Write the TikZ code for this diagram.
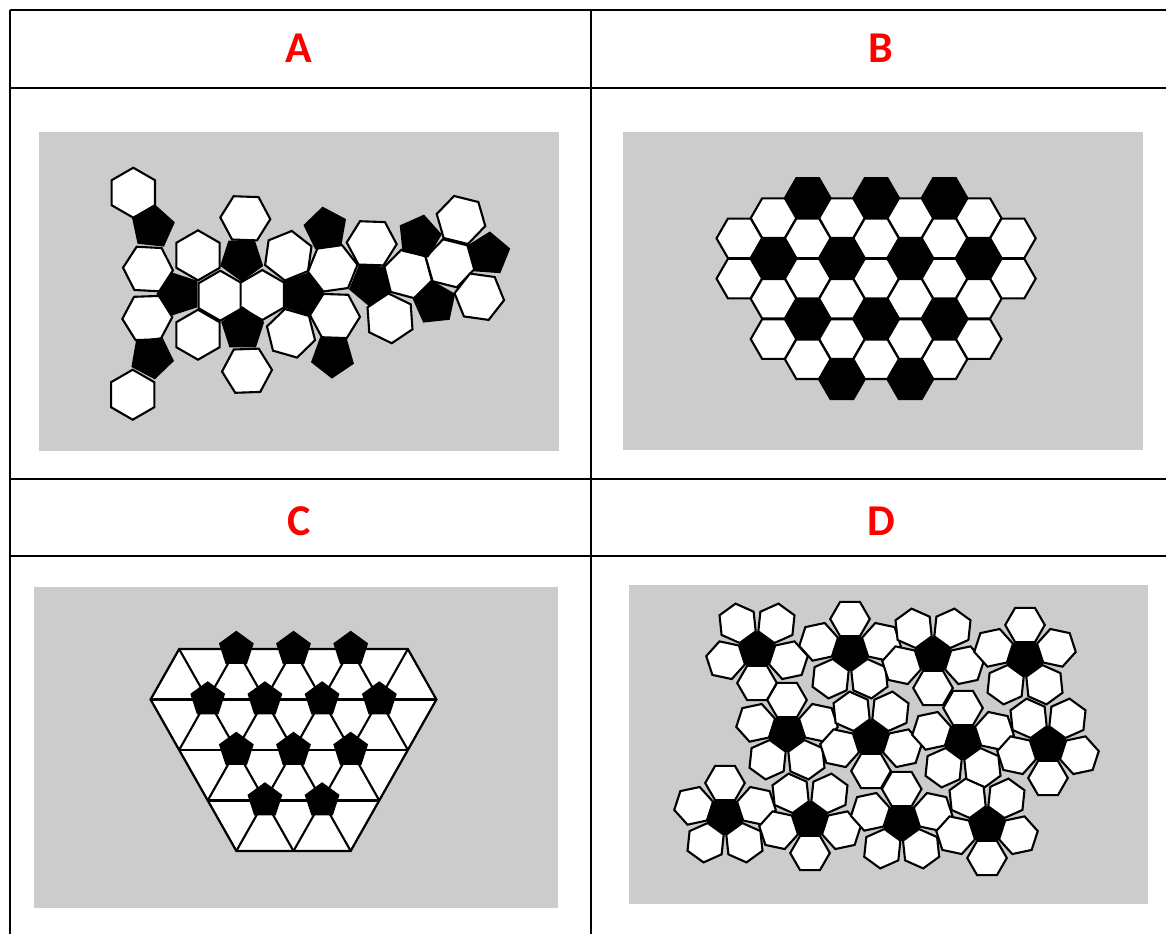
\documentclass[tikz,border=0pt]{standalone}
\usepackage{fontspec}
\setmainfont{Carlito}
\usetikzlibrary{calc}

\definecolor{panelgray}{RGB}{204,204,204}
\definecolor{lblred}{RGB}{255,0,0}

% regular polygons: #1 centre, #2 circumradius, #3 direction of one edge normal, #4 fill
\newcommand{\hexa}[4]{%
  \draw[tile, fill=#4, shift={#1}] (#3+30:#2) -- (#3+90:#2) -- (#3+150:#2)
    -- (#3+210:#2) -- (#3+270:#2) -- (#3+330:#2) -- cycle;}
\newcommand{\penta}[4]{%
  \draw[tile, fill=#4, shift={#1}] (#3+36:#2) -- (#3+108:#2) -- (#3+180:#2)
    -- (#3+252:#2) -- (#3+324:#2) -- cycle;}

\begin{document}
\begin{tikzpicture}[
  x=0.5pt, y=-0.5pt,
  tile/.style={draw=black, line width=1.05pt},
  rule/.style={line width=1.3pt},
  panel/.style={fill=panelgray},
  lbl/.style={text=lblred, font=\fontsize{22}{26}\selectfont\bfseries}
]
\useasboundingbox (0,0) rectangle (1166,934);

% table
\draw[rule] (10,10) -- (1166,10);
\draw[rule] (10,88) -- (1166,88);
\draw[rule] (10,479) -- (1166,479);
\draw[rule] (10,556) -- (1166,556);
\draw[rule] (10,10) -- (10,934);
\draw[rule] (591,10) -- (591,934);

\node[lbl] (labA) at (299,48) {A};
\node[lbl] (labB) at (881,48) {B};
\node[lbl] (labC) at (299,521) {C};
\node[lbl] (labD) at (881,521) {D};

\fill[panel] (39,132) rectangle (559,451);
\fill[panel] (623,132) rectangle (1143,450);
\fill[panel] (34,587) rectangle (558,908);
\fill[panel] (629,585) rectangle (1148,904);

% A: net
\foreach \px/\py/\pa in {133.3/192.7/0, 148/269/33, 147.3/318/28, 132.7/394.7/0,
    198/255.3/0, 198/334.7/0, 220.3/295.7/0, 262.3/295/0, 245.3/218.3/32,
    247/370.7/28, 288.3/255.7/8, 291/333.3/46, 332.7/268.3/22, 371.7/243.3/32,
    390/318.3/56, 407.7/274/45, 461/220/44, 450/263.3/44, 479.3/296.7/38, 335/316/32}
  {\hexa{(\px,\py)}{25}{\pa}{white}}
\foreach \px/\py/\pa in {152.7/227/24, 151.7/357/46, 241.7/259/54, 242.7/329/18,
    179/294/0, 302/294/36, 325.7/229/10, 371/284/58, 419.3/236.7/30,
    488.3/254/22, 434.5/303/12, 332.7/356/56}
  {\penta{(\px,\py)}{21.3}{\pa}{black}}

% B: hexagons only
\foreach \j/\cols/\col in {0/{2,4,6}/black, 1/{1,3,5,7}/white, 2/{0,2,4,6,8}/white,
    3/{1,3,5,7}/black, 4/{0,2,4,6,8}/white, 5/{1,3,5,7}/white, 6/{2,4,6}/black,
    7/{1,3,5,7}/white, 8/{2,4,6}/white, 9/{3,5}/black}
  {\foreach \i in \cols {\hexa{(739.3+34.2*\i,198+20.15*\j)}{22.8}{30}{\col}}}

% C: triangles
\begin{scope}[shift={(293.5,649)}]
  \fill[white] (-114.4,0) -- (114.4,0) -- (143,50.5) -- (57.2,202) -- (-57.2,202) -- (-143,50.5) -- cycle;
  \begin{scope}
    \clip (-114.4,0) -- (114.4,0) -- (143,50.5) -- (57.2,202) -- (-57.2,202) -- (-143,50.5) -- cycle;
    \foreach \k in {-2,...,3} \draw[tile] ({(\k+0.5)*57.2},-50.5) -- ({(\k-2.5)*57.2},252.5);
    \foreach \k in {-3,...,2} \draw[tile] ({(\k-0.5)*57.2},-50.5) -- ({(\k+2.5)*57.2},252.5);
    \foreach \r in {1,2,3} \draw[tile] (-200,\r*50.5) -- (200,\r*50.5);
  \end{scope}
  \draw[tile] (-114.4,0) -- (114.4,0) -- (143,50.5) -- (57.2,202) -- (-57.2,202) -- (-143,50.5) -- cycle;
  \foreach \u/\r in {-1/0, 0/0, 1/0, -1.5/1, -0.5/1, 0.5/1, 1.5/1, -1/2, 0/2, 1/2, -0.5/3, 0.5/3}
    {\penta{(\u*57.2,\r*50.5)}{17}{18}{black}}
\end{scope}

% D: separate clusters
\foreach \cx/\cy/\ca in {757/650/18, 850/652/54, 933/655/18, 1025/658/54,
    787/733/54, 871/738/18, 963/741/54, 1048/745/18,
    725/816/54, 810/820/18, 901.7/822/54, 987/825/18}
  {\foreach \j in {0,...,4} {\hexa{($(\cx,\cy)+(\ca+72*\j:33)$)}{19.8}{\ca+72*\j}{white}}
   \penta{(\cx,\cy)}{17.5}{\ca}{black}}
\end{tikzpicture}
\end{document}
